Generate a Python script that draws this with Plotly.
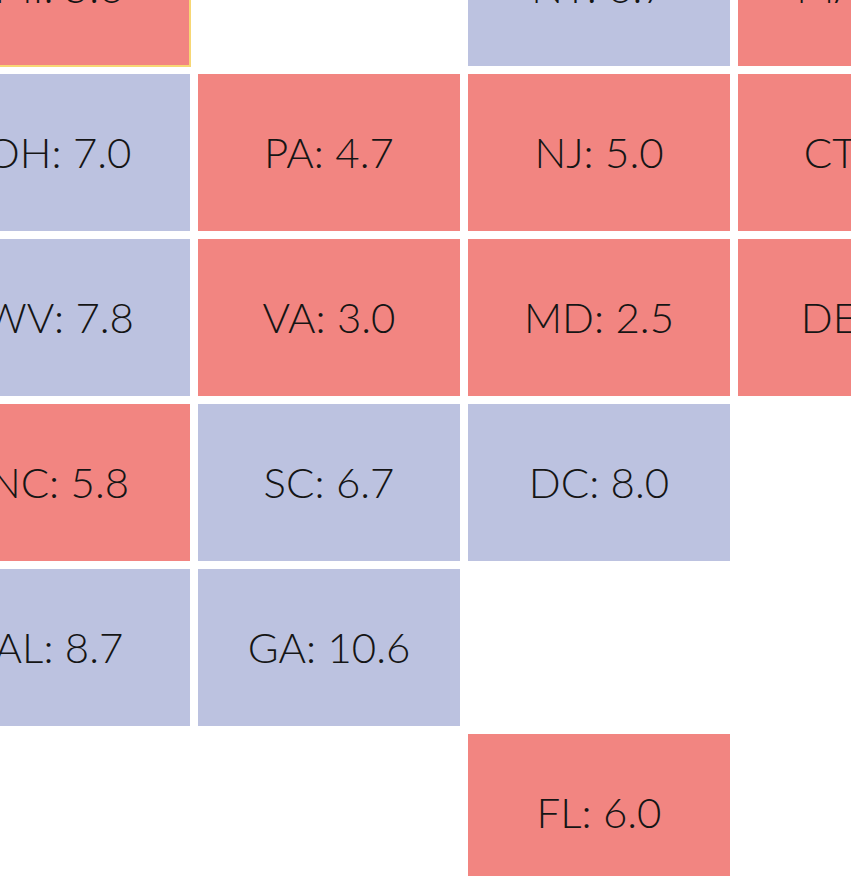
import plotly.graph_objects as go

# Tile-grid data (visible portion)
states = ["MI", "NY", "MA", "OH", "PA", "NJ", "CT", "WV", "VA", "MD", "DE",
          "NC", "SC", "DC", "AL", "GA", "FL"]
cols   = [0, 2, 3, 0, 1, 2, 3, 0, 1, 2, 3, 0, 1, 2, 0, 1, 2]
rows   = [0, 0, 0, 1, 1, 1, 1, 2, 2, 2, 2, 3, 3, 3, 4, 4, 5]
values = [5.6, 6.7, 4.7, 7.0, 4.7, 5.0, 4.4, 7.8, 3.0, 2.5, 4.0,
          5.8, 6.7, 8.0, 8.7, 10.6, 6.0]
threshold = 6.3
highlight = "MI"

RED = "#F28581"
BLUE = "#BCC2E0"

CELL_W, CELL_H = 270, 165          # pixels per grid cell
LABEL_DY = 5 / CELL_H              # small baseline nudge for the label font

ncols = max(cols) + 1
nrows = max(rows) + 1
z = [[None] * ncols for _ in range(nrows)]
for s, c, r, v in zip(states, cols, rows, values):
    z[r][c] = 1 if v > threshold else 0

labels = [f"{s}: {v:.1f}" for s, v in zip(states, values)]

fig = go.Figure()
fig.add_trace(go.Heatmap(
    z=z, x=list(range(ncols)), y=list(range(nrows)),
    colorscale=[[0, RED], [1, BLUE]], zmin=0, zmax=1,
    showscale=False, xgap=8, ygap=8, hoverinfo="skip",
))

fig.add_trace(go.Scatter(
    x=cols, y=[r + LABEL_DY for r in rows], text=labels, mode="text",
    textposition="middle center",
    textfont=dict(family="Lato", size=42, color="#151515", weight=300),
    hoverinfo="text", showlegend=False, cliponaxis=True,
))

# highlight outline around selected tile
i = states.index(highlight)
hc, hr = cols[i], rows[i]
dx, dy = 0.5 - 4 / CELL_W, 0.5 - 4 / CELL_H
fig.add_trace(go.Scatter(
    x=[hc - dx, hc + dx, hc + dx, hc - dx, hc - dx],
    y=[hr - dy, hr - dy, hr + dy, hr + dy, hr - dy],
    mode="lines", line=dict(color="#F7D774", width=2),
    hoverinfo="skip", showlegend=False,
))

# The view is a zoomed-in crop of the tile grid: the figure is a bit larger
# than the window and shifted so the first row/column are partly cut off.
OFF_X, OFF_Y = 76, 95
W, H = 851 + OFF_X, 876 + OFF_Y

fig.update_layout(
    width=W, height=H,
    margin=dict(l=0, r=0, t=0, b=0),
    paper_bgcolor="white", plot_bgcolor="white",
    showlegend=False,
)
fig.update_xaxes(range=[-0.5, -0.5 + W / CELL_W], visible=False, showgrid=False, zeroline=False)
fig.update_yaxes(range=[-0.5 + H / CELL_H, -0.5], visible=False, showgrid=False, zeroline=False)

fig.write_html(
    "out.html",
    config={"displayModeBar": False},
    post_script=(
        "document.body.style.margin='0px';"
        "document.body.style.overflow='hidden';"
        f"var g=document.getElementById('{{plot_id}}');"
        f"g.style.marginLeft='-{OFF_X}px';g.style.marginTop='-{OFF_Y}px';"
    ),
)
